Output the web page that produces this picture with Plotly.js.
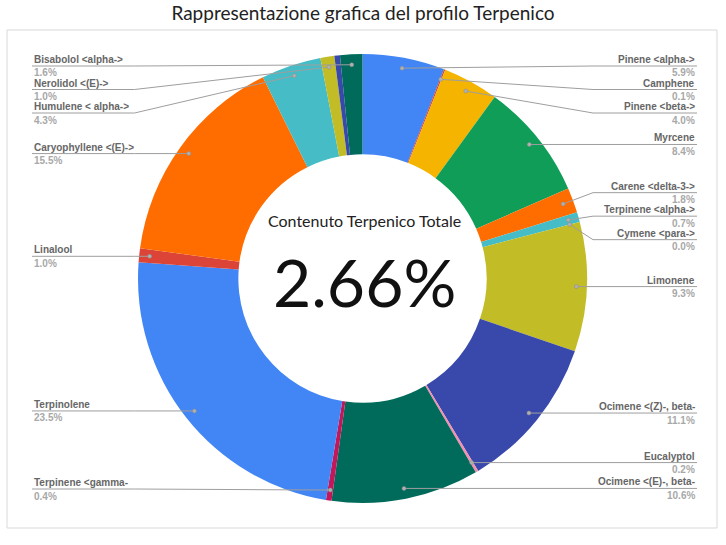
<!DOCTYPE html>
<html>
<head>
<meta charset="utf-8">
<script src="https://cdn.plot.ly/plotly-3.0.1.min.js"></script>
<style>html,body{margin:0;padding:0;background:#fff;}#chart{width:726px;height:545px;}</style>
</head>
<body>
<div id="chart"></div>
<script>
// ---- data (clockwise from 12 o'clock) ----
const names = [
  "Pinene <alpha->", "Camphene", "Pinene <beta->", "Myrcene", "Carene <delta-3->",
  "Terpinene <alpha->", "Cymene <para->", "Limonene", "Ocimene <(Z)-, beta-", "Eucalyptol",
  "Ocimene <(E)-, beta-", "Terpinene <gamma-", "Terpinolene", "Linalool", "Caryophyllene <(E)->",
  "Humulene < alpha->", "Nerolidol <(E)->", "", "Bisabolol <alpha->"
];
const values = [5.9, 0.1, 4.0, 8.4, 1.8, 0.7, 0.0, 9.3, 11.1, 0.2, 10.6, 0.4, 23.5, 1.0, 15.5, 4.3, 1.0, 0.4, 1.6];
const colors = [
  "#4285F4", "#DB4437", "#F4B400", "#0F9D58", "#FF6D00",
  "#46BDC6", "#AB47BC", "#C2BC26", "#3949AB", "#F48FB1",
  "#006B5B", "#C2185B", "#4285F4", "#DB4437", "#FF6D00",
  "#46BDC6", "#C2BC26", "#3949AB", "#006B5B"
];
const chartTitle = "Rappresentazione grafica del profilo Terpenico";
const centerLabel = "Contenuto Terpenico Totale";
const centerValue = "2.66%";

// ---- geometry ----
const W = 726, H = 545;
const CX = 362.5, CY = 278.5, R = 224.5, HOLE = 0.553;
const RD = 214, GAP = 23.5, TOP = 66, BOT = 489;
const RIGHT_X = 697, LEFT_X = 32, KINK_R = CX + R + 6, KINK_L = CX - R - 3.5;
const px = x => x / W, py = y => 1 - y / H;
const esc = s => s.replace(/&/g, "&amp;").replace(/</g, "&lt;").replace(/>/g, "&gt;");

const total = values.reduce((a, b) => a + b, 0);
let cum = 0;
const items = [];
values.forEach((v, i) => {
  const mid = (cum + v / 2) / total * 2 * Math.PI;
  cum += v;
  if (!names[i]) return;
  items.push({
    i, dx: CX + RD * Math.sin(mid), dy: CY - RD * Math.cos(mid),
    side: Math.sin(mid) >= 0 ? "R" : "L"
  });
});

function place(arr) {
  arr.sort((a, b) => a.dy - b.dy);
  const clusters = arr.map(it => ({ m: [it] }));
  const pos = c => {
    const n = c.m.length;
    const mean = c.m.reduce((s, it) => s + it.dy, 0) / n;
    let s = mean - (n - 1) * GAP / 2;
    s = Math.min(BOT - (n - 1) * GAP, s);
    s = Math.max(TOP, s);
    return s;
  };
  let changed = true;
  while (changed) {
    changed = false;
    for (let k = 1; k < clusters.length; k++) {
      const a = clusters[k - 1], b = clusters[k];
      if (pos(a) + a.m.length * GAP > pos(b) + 0.01) {
        a.m = a.m.concat(b.m); clusters.splice(k, 1); changed = true; break;
      }
    }
  }
  clusters.forEach(c => { const s = pos(c); c.m.forEach((it, j) => it.ly = s + j * GAP); });
}
place(items.filter(it => it.side === "R"));
place(items.filter(it => it.side === "L"));

const shapes = [{
  type: "rect", xref: "paper", yref: "paper", layer: "below",
  x0: px(7), x1: px(717), y0: py(30), y1: py(528),
  line: { color: "#d9d9d9", width: 1 }, fillcolor: "rgba(0,0,0,0)"
}];
const annotations = [];
items.forEach(it => {
  const right = it.side === "R";
  const kx = right ? KINK_R : KINK_L;
  const ex = right ? RIGHT_X : LEFT_X;
  shapes.push({
    type: "path", xref: "paper", yref: "paper",
    path: `M ${px(it.dx)},${py(it.dy)} L ${px(kx)},${py(it.ly)} L ${px(ex)},${py(it.ly)}`,
    line: { color: "#9e9e9e", width: 1 }
  });
  shapes.push({
    type: "circle", xref: "paper", yref: "paper",
    x0: px(it.dx - 2), x1: px(it.dx + 2), y0: py(it.dy + 2), y1: py(it.dy - 2),
    fillcolor: "#b0b0b0", line: { color: "#8a8a8a", width: 0.5 }
  });
  const anchor = right ? "right" : "left";
  annotations.push({
    xref: "paper", yref: "paper", x: px(ex), y: py(it.ly - 6.5),
    xanchor: anchor, yanchor: "middle", showarrow: false,
    text: "<b>" + esc(names[it.i]) + "</b>",
    font: { family: "Liberation Sans, Arial, sans-serif", size: 10, color: "#666666" }
  });
  annotations.push({
    xref: "paper", yref: "paper", x: px(ex), y: py(it.ly + 7),
    xanchor: anchor, yanchor: "middle", showarrow: false,
    text: "<b>" + values[it.i].toFixed(1) + "%</b>",
    font: { family: "Liberation Sans, Arial, sans-serif", size: 10, color: "#a8a8a8" }
  });
});

annotations.push({
  xref: "paper", yref: "paper", x: px(CX + 2), y: py(220),
  xanchor: "center", yanchor: "middle", showarrow: false,
  text: centerLabel, font: { family: "Lato, Noto Sans, sans-serif", size: 16, color: "#222" }
});
annotations.push({
  xref: "paper", yref: "paper", x: px(CX + 2), y: py(281),
  xanchor: "center", yanchor: "middle", showarrow: false,
  text: centerValue, font: { family: "Lato, Noto Sans, sans-serif", size: 66, color: "#111" }
});

const trace = {
  type: "pie", labels: names.map((n, i) => n || ("slice " + i)), values: values,
  sort: false, direction: "clockwise", rotation: 0, hole: HOLE,
  marker: { colors: colors, line: { width: 0 } },
  textinfo: "none", hoverinfo: "skip", showlegend: false,
  domain: { x: [(CX - R) / W, (CX + R) / W], y: [1 - (CY + R) / H, 1 - (CY - R) / H] }
};

const layout = {
  width: W, height: H,
  margin: { l: 0, r: 0, t: 0, b: 0 },
  paper_bgcolor: "#ffffff",
  showlegend: false,
  title: {
    text: chartTitle, x: 0.5, xanchor: "center", y: 1 - 13 / H, yanchor: "middle",
    font: { family: "Lato, Noto Sans, sans-serif", size: 19, color: "#222" }
  },
  shapes: shapes,
  annotations: annotations
};
Plotly.newPlot("chart", [trace], layout, { displayModeBar: false, staticPlot: true });
</script>
</body>
</html>
